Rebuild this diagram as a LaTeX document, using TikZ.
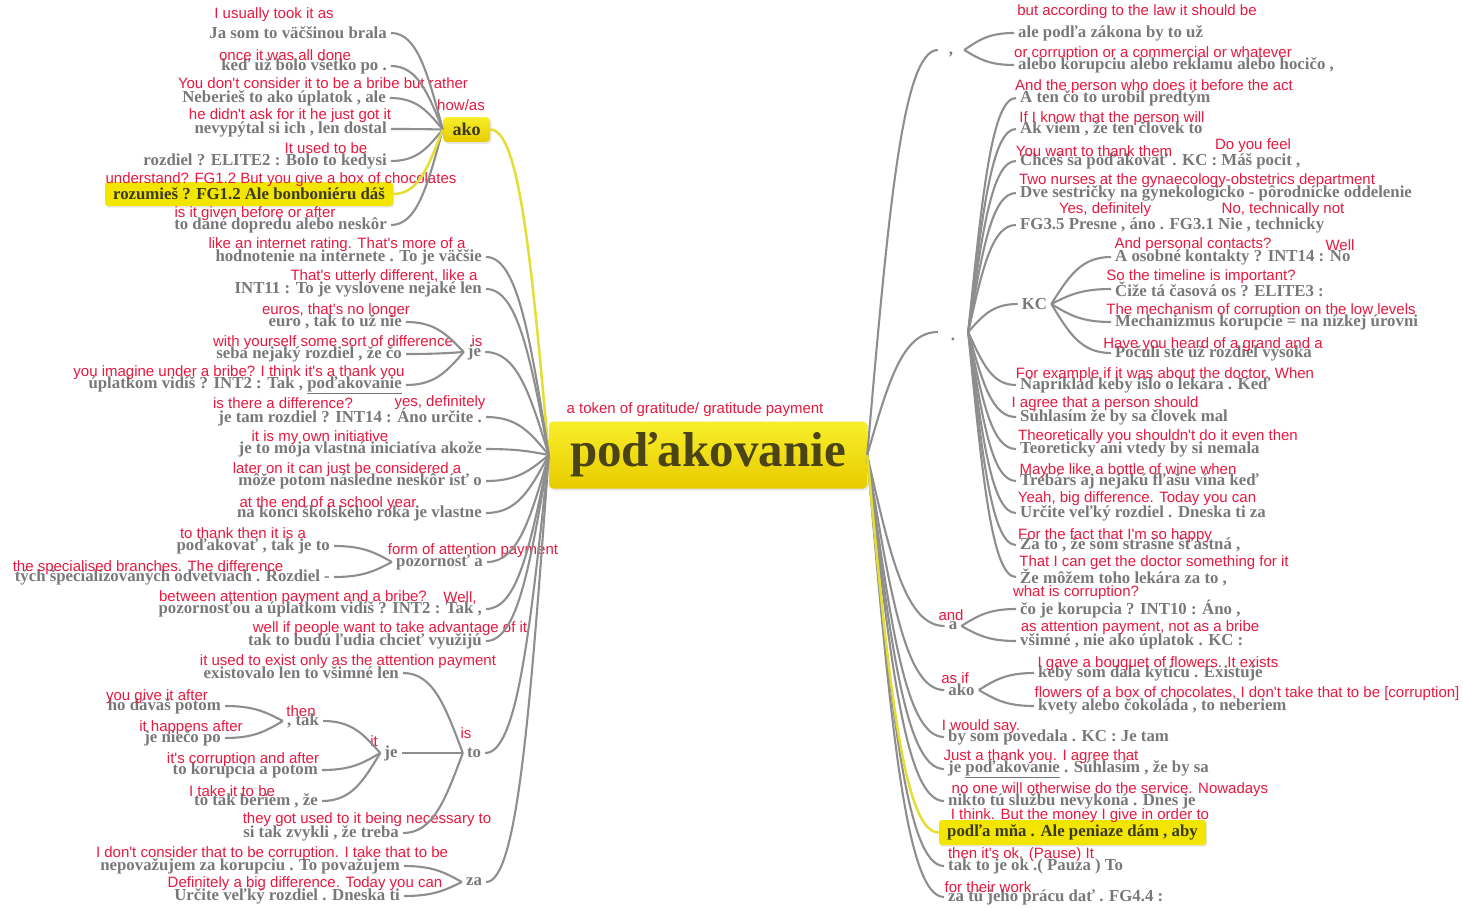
\documentclass[tikz,border=0pt]{standalone}
\usepackage{fontspec}
\setmainfont{Liberation Serif}
\newfontfamily\sansf{Liberation Sans}
\usetikzlibrary{calc,shadows}
\definecolor{gtx}{HTML}{787878}
\definecolor{btx}{HTML}{3C3A1E}
\definecolor{rtx}{HTML}{E8183F}
\definecolor{wirec}{HTML}{8E8E8E}
\definecolor{hiwirec}{HTML}{E4DE34}
\definecolor{hifill}{HTML}{F2E600}
\definecolor{boxtop}{HTML}{F8EE2A}
\definecolor{boxbot}{HTML}{E8CC00}
\definecolor{maintx}{HTML}{4B4416}
\tikzset{
  gt/.style={font=\fontsize{16.8}{18}\selectfont\bfseries, text=gtx, inner xsep=4pt, inner ysep=1pt},
  rt/.style={font=\sansf\fontsize{15}{16}\selectfont, text=rtx, inner sep=0pt},
  wire/.style={draw=wirec, line width=2.1pt},
  hiw/.style={draw=hiwirec, line width=2.5pt},
  hbox/.style={gt, text=btx, fill=hifill, rounded corners=3pt,
    drop shadow={opacity=0.2, shadow xshift=1pt, shadow yshift=-1.5pt}},
  topicbox/.style={top color=boxtop, bottom color=boxbot, rounded corners=4pt,
    drop shadow={opacity=0.2, shadow xshift=1.5pt, shadow yshift=-2pt}},
}
% curved branch from a parent anchor to a child anchor
\newcommand\cn[3][wire]{\draw[#1] let \p1=(#2),\p2=(#3) in
  (\p1) .. controls (\x1+0.3*\x2-0.3*\x1, \y1+0.6*\y2-0.6*\y1)
  and (0.5*\x1+0.5*\x2, \y2) .. (\p2);}
\begin{document}
\begin{tikzpicture}[x=1pt,y=-1pt]
\useasboundingbox (0,0) rectangle (1463,907);

% central topic
\node[topicbox, minimum width=318pt, minimum height=67pt, text=maintx,
  font=\fontsize{49}{50}\selectfont\bfseries] (main) at (708,455) {poďakovanie};
\node[rt] (mainr) at (695,410) {a token of gratitude/ gratitude payment};

% ---------- left side ----------
\node[topicbox, minimum width=47pt, minimum height=25pt, inner sep=0pt, text=btx,
  font=\fontsize{18}{19}\selectfont\bfseries] (ako) at (466.5,129.5) {ako};
\node[rt] (akor) at (461,105) {how/as};

\node[gt, anchor=east] (l1) at (391,33) {Ja som to väčšinou brala};
\node[rt] (l1r) at (274,15) {I usually took it as};
\node[gt, anchor=east] (l2) at (391,66) {keď už bolo všetko po .};
\node[rt] (l2r) at (285,55) {once it was all done};
\node[gt, anchor=east] (l3) at (390,98) {Neberieš to ako úplatok , ale};
\node[rt] (l3r) at (323,83) {You don't consider it to be a bribe but rather};
\node[gt, anchor=east] (l4) at (391,129) {nevypýtal si ich , len dostal};
\node[rt] (l4r) at (290,116) {he didn't ask for it he just got it};
\node[gt, anchor=east] (l5) at (391,161) {rozdiel ? ELITE2 : Bolo to kedysi};
\node[rt] (l5r) at (326,148) {It used to be};
\node[hbox, minimum width=288pt, minimum height=24pt] (l6) at (249,194) {rozumieš ? FG1.2 Ale bonboniéru dáš};
\node[rt] (l6r) at (281,180) {understand? FG1.2 But you give a box of chocolates};
\node[gt, anchor=east] (l7) at (391,225) {to dané dopredu alebo neskôr};
\node[rt] (l7r) at (255,214) {is it given before or after};

\node[gt, anchor=east] (m1) at (486,257) {hodnotenie na internete . To je väčšie};
\node[rt] (m1r) at (337,245) {like an internet rating. That's more of a};
\node[gt, anchor=east] (m2) at (486,289) {INT11 : To je vyslovene nejaké len};
\node[rt] (m2r) at (384,277) {That's utterly different, like a};

\node[gt] (je1) at (474.5,352) {je};
\node[rt] (je1r) at (477,341) {is};
\node[gt, anchor=east] (j1) at (406,322) {euro , tak to už nie};
\node[rt] (j1r) at (336,311) {euros, that's no longer};
\node[gt, anchor=east] (j2) at (406,354) {seba nejaký rozdiel , že čo};
\node[rt] (j2r) at (333,343) {with yourself some sort of difference};
\node[gt, anchor=east] (j3) at (406,385) {úplatkom vidíš ? INT2 : Tak , \underline{poďakovanie}};
\node[rt] (j3r) at (239,373) {you imagine under a bribe? I think it's a thank you};

\node[gt, anchor=east] (m3) at (486,417) {je tam rozdiel ? INT14 : Áno určite .};
\node[rt] (m3r) at (283,403) {is there a difference?};
\node[rt] (m3s) at (440,403) {yes, definitely};
\node[gt, anchor=east] (m4) at (486,449) {je to moja vlastná iniciatíva akože};
\node[rt] (m4r) at (320,438) {it is my own initiative};
\node[gt, anchor=east] (m5) at (486,481) {môže potom následne neskôr ísť o};
\node[rt] (m5r) at (347,470) {later on it can just be considered a};
\node[gt, anchor=east] (m6) at (486,513) {na konci školského roka je vlastne};
\node[rt] (m6r) at (328,504) {at the end of a school year};

\node[gt] (poz) at (439.5,562) {pozornosť a};
\node[rt] (pozr) at (473,551) {form of attention payment};
\node[gt, anchor=east] (p1) at (334,546) {poďakovať , tak je to};
\node[rt] (p1r) at (243,533) {to thank then it is a};
\node[gt, anchor=east] (p2) at (334,577) {tých špecializovaných odvetviach . Rozdiel -};
\node[rt] (p2r) at (148,568) {the specialised branches. The difference};

\node[gt, anchor=east] (m7) at (486,609) {pozornosťou a úplatkom vidíš ? INT2 : Tak ,};
\node[rt] (m7r) at (293,598) {between attention payment and a bribe?};
\node[rt] (m7s) at (460,598) {Well,};
\node[gt, anchor=east] (m8) at (486,641) {tak to budú ľudia chcieť využijú};
\node[rt] (m8r) at (390,629) {well if people want to take advantage of it};

\node[gt] (to) at (474,753) {to};
\node[rt] (tor) at (466,733) {is};
\node[gt, anchor=east] (t1) at (403,673) {existovalo len to všimné len};
\node[rt] (t1r) at (348,662) {it used to exist only as the attention payment};
\node[gt] (je2) at (391,753) {je};
\node[rt] (je2r) at (374,741) {it};
\node[gt] (tak) at (303,721) {, tak};
\node[rt] (takr) at (301,711) {then};
\node[gt, anchor=east] (k1) at (225,706) {ho dávaš potom};
\node[rt] (k1r) at (157,697) {you give it after};
\node[gt, anchor=east] (k2) at (225,738) {je niečo po};
\node[rt] (k2r) at (191,728) {it happens after};
\node[gt, anchor=east] (e2) at (322,770) {to korupcia a potom};
\node[rt] (e2r) at (243,760) {it's corruption and after};
\node[gt, anchor=east] (e3) at (322,801) {to tak beriem , že};
\node[rt] (e3r) at (232,791) {I take it to be};
\node[gt, anchor=east] (t3) at (403,833) {si tak zvykli , že treba};
\node[rt] (t3r) at (367,820) {they got used to it being necessary to};

\node[gt] (za) at (474,882) {za};
\node[gt, anchor=east] (z1) at (404,866) {nepovažujem za korupciu . To považujem};
\node[rt] (z1r) at (272,854) {I don't consider that to be corruption. I take that to be};
\node[gt, anchor=east] (z2) at (404,896) {Určite veľký rozdiel . Dneska ti};
\node[rt] (z2r) at (305,884) {Definitely a big difference. Today you can};

% ---------- right side ----------
\node[gt, minimum width=26pt] (comma) at (951,50) {\smash{\raisebox{-5pt}{,}}};
\node[gt, anchor=west] (c1) at (1014,33) {ale podľa zákona by to už};
\node[rt] (c1r) at (1137,12) {but according to the law it should be};
\node[gt, anchor=west] (c2) at (1014,65) {alebo korupciu alebo reklamu alebo hocičo ,};
\node[rt] (c2r) at (1153,54) {or corruption or a commercial or whatever};

\node[gt, minimum width=30pt] (dot) at (953,332) {\smash{\raisebox{-8pt}{.}}};
\node[gt, anchor=west] (d1) at (1016,98) {A ten čo to urobil predtým};
\node[rt] (d1r) at (1154,87) {And the person who does it before the act};
\node[gt, anchor=west] (d2) at (1016,129) {Ak viem , že ten človek to};
\node[rt] (d2r) at (1112,119) {If I know that the person will};
\node[gt, anchor=west] (d3) at (1016,161) {Chceš sa poďakovať . KC : Máš pocit ,};
\node[rt] (d3r) at (1094,151) {You want to thank them};
\node[rt] (d3s) at (1253,146) {Do you feel};
\node[gt, anchor=west] (d4) at (1016,193) {Dve sestričky na gynekologicko - pôrodnícke oddelenie};
\node[rt] (d4r) at (1197,181) {Two nurses at the gynaecology-obstetrics department};
\node[gt, anchor=west] (d5) at (1016,225) {FG3.5 Presne , áno . FG3.1 Nie , technicky};
\node[rt] (d5r) at (1105,210) {Yes, definitely};
\node[rt] (d5s) at (1283,210) {No, technically not};

\node[gt] (kc) at (1034.5,304) {KC};
\node[gt, anchor=west] (q1) at (1111,257) {A osobné kontakty ? INT14 : No};
\node[rt] (q1r) at (1193,245) {And personal contacts?};
\node[rt] (q1s) at (1340,245) {Well};
\node[gt, anchor=west] (q2) at (1111,289) {Čiže tá časová os ? ELITE3 :};
\node[rt] (q2r) at (1201,277) {So the timeline is important?};
\node[gt, anchor=west] (q3) at (1111,322) {Mechanizmus korupcie = na nízkej úrovni};
\node[rt] (q3r) at (1261,311) {The mechanism of corruption on the low levels};
\node[gt, anchor=west] (q4) at (1111,353) {Počuli ste už rozdiel vysoká};
\node[rt] (q4r) at (1213,345) {Have you heard of a grand and a};

\node[gt, anchor=west] (d6) at (1016,385) {Napríklad keby išlo o lekára . Keď};
\node[rt] (d6r) at (1165,375) {For example if it was about the doctor. When};
\node[gt, anchor=west] (d7) at (1016,417) {Súhlasím že by sa človek mal};
\node[rt] (d7r) at (1105,404) {I agree that a person should};
\node[gt, anchor=west] (d8) at (1016,449) {Teoreticky ani vtedy by si nemala};
\node[rt] (d8r) at (1158,437) {Theoretically you shouldn't do it even then};
\node[gt, anchor=west] (d9) at (1016,481) {Trebárs aj nejakú fľašu vína keď};
\node[rt] (d9r) at (1128,471) {Maybe like a bottle of wine when};
\node[gt, anchor=west] (d10) at (1016,513) {Určite veľký rozdiel . Dneska ti za};
\node[rt] (d10r) at (1137,499) {Yeah, big difference. Today you can};
\node[gt, anchor=west] (d11) at (1016,545) {Za to , že som strašne šťastná ,};
\node[rt] (d11r) at (1115,536) {For the fact that I'm so happy};
\node[gt, anchor=west] (d12) at (1016,577) {Že môžem toho lekára za to ,};
\node[rt] (d12r) at (1154,563) {That I can get the doctor something for it};

\node[gt] (a) at (953,626) {a};
\node[rt] (ar) at (951,615) {and};
\node[gt, anchor=west] (a1) at (1016,609) {čo je korupcia ? INT10 : Áno ,};
\node[rt] (a1r) at (1076,593) {what is corruption?};
\node[gt, anchor=west] (a2) at (1016,641) {všimné , nie ako úplatok . KC :};
\node[rt] (a2r) at (1140,628) {as attention payment, not as a bribe};

\node[gt] (ako2) at (961.5,690) {ako};
\node[rt] (ako2r) at (955,678) {as if};
\node[gt, anchor=west] (b1) at (1034,673) {keby som dala kyticu . Existuje};
\node[rt] (b1r) at (1158,664) {I gave a bouquet of flowers. It exists};
\node[gt, anchor=west] (b2) at (1034,706) {kvety alebo čokoláda , to neberiem};
\node[rt] (b2r) at (1247,694) {flowers of a box of chocolates, I don't take that to be [corruption]};

\node[gt, anchor=west] (r1) at (944,737) {by som povedala . KC : Je tam};
\node[rt] (r1r) at (981,727) {I would say.};
\node[gt, anchor=west] (r2) at (944,769) {je \underline{poďakovanie} . Súhlasím , že by sa};
\node[rt] (r2r) at (1041,757) {Just a thank you. I agree that};
\node[gt, anchor=west] (r3) at (944,801) {nikto tú službu nevykoná . Dnes je};
\node[rt] (r3r) at (1110,790) {no one will otherwise do the service. Nowadays};
\node[hbox, minimum width=267pt, minimum height=25pt] (r4) at (1072.5,832.5) {podľa mňa . Ale peniaze dám , aby};
\node[rt] (r4r) at (1080,816) {I think. But the money I give in order to};
\node[gt, anchor=west] (r5) at (944,866) {tak to je ok .( Pauza ) To};
\node[rt] (r5r) at (1021,855) {then it's ok. (Pause) It};
\node[gt, anchor=west] (r6) at (944,897) {za tú jeho prácu dať . FG4.4 :};
\node[rt] (r6r) at (988,887) {for their work};

% ---------- branches, left ----------
\cn[hiw]{main.west}{ako.east}
\foreach \c in {l1,l2,l3,l4,l5,l7} {\cn{ako.west}{\c.east}}
\cn[hiw]{ako.west}{l6.east}
\foreach \c in {m1,m2,je1,m3,m4,m5,m6,poz,m7,m8,to,za} {\cn{main.west}{\c.east}}
\foreach \c in {j1,j2,j3} {\cn{je1.west}{\c.east}}
\foreach \c in {p1,p2} {\cn{poz.west}{\c.east}}
\foreach \c in {t1,je2,t3} {\cn{to.west}{\c.east}}
\foreach \c in {tak,e2,e3} {\cn{je2.west}{\c.east}}
\foreach \c in {k1,k2} {\cn{tak.west}{\c.east}}
\foreach \c in {z1,z2} {\cn{za.west}{\c.east}}

% ---------- branches, right ----------
\foreach \c in {comma,dot,a,ako2,r1,r2,r3,r5,r6} {\cn{main.east}{\c.west}}
\cn[hiw]{main.east}{r4.west}
\foreach \c in {c1,c2} {\cn{comma.east}{\c.west}}
\foreach \c in {d1,d2,d3,d4,d5,kc,d6,d7,d8,d9,d10,d11,d12} {\cn{dot.east}{\c.west}}
\foreach \c in {q1,q2,q3,q4} {\cn{kc.east}{\c.west}}
\foreach \c in {a1,a2} {\cn{a.east}{\c.west}}
\foreach \c in {b1,b2} {\cn{ako2.east}{\c.west}}
\end{tikzpicture}
\end{document}
